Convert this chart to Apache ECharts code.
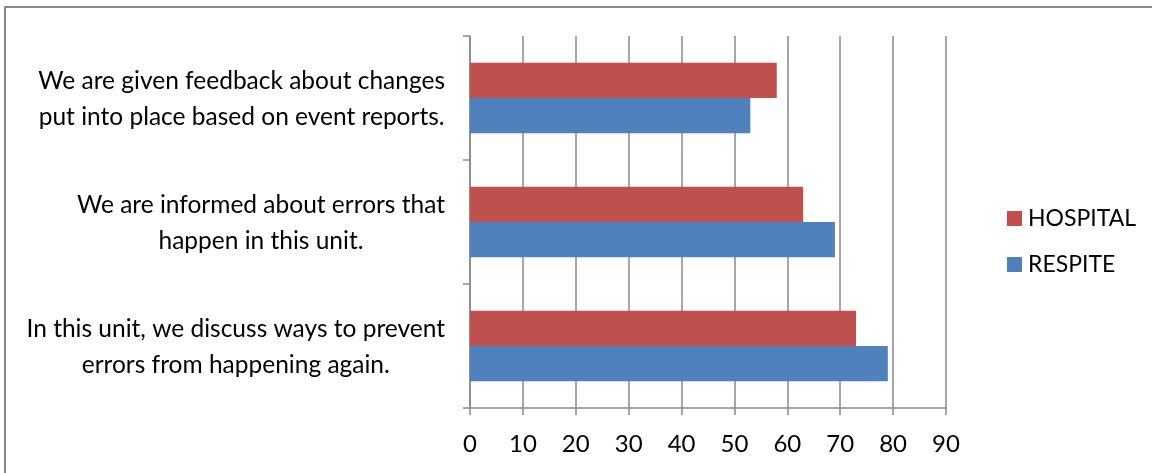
<!DOCTYPE html>
<html>
<head>
<meta charset="utf-8">
<script src="https://cdn.jsdelivr.net/npm/echarts@6/dist/echarts.min.js"></script>
<style>
  html, body { margin: 0; padding: 0; background: #fff; }
  #frame {
    position: absolute; left: 4px; top: 6px; width: 1300px; height: 600px;
    border-top: 2px solid #878787; border-left: 2px solid #878787;
  }
  #chart { position: absolute; left: 0; top: 0; width: 1152px; height: 473px; }
</style>
</head>
<body>
<div id="frame"></div>
<div id="chart"></div>
<script>
  // categories, bottom to top (as in the picture)
  var categories = [
    'In this unit, we discuss ways to prevent\nerrors from happening again.',
    'We are informed about errors that\nhappen in this unit.',
    'We are given feedback about changes\nput into place based on event reports.'
  ];
  var hospital = [73, 63, 58];
  var respite = [79, 69, 53];
  var seriesNames = ['HOSPITAL', 'RESPITE'];

  var fontName = 'Lato';
  var gridColor = '#898989';

  var option = {
    animation: false,
    textStyle: { fontFamily: fontName },
    grid: { left: 470, right: 206, top: 36, bottom: 65, containLabel: false },
    legend: {
      data: seriesNames,
      orient: 'vertical',
      left: 1002,
      top: 202,
      itemWidth: 15,
      itemHeight: 15,
      itemGap: 23,
      icon: 'rect',
      textStyle: { fontSize: 23, color: '#000', fontFamily: fontName, padding: [0, 0, 0, 1] }
    },
    xAxis: {
      type: 'value',
      min: 0,
      max: 90,
      interval: 10,
      axisLine: { show: true, lineStyle: { color: gridColor, width: 1.5 } },
      axisTick: { show: true, length: 7, lineStyle: { color: gridColor, width: 1.5 } },
      splitLine: { show: true, lineStyle: { color: gridColor, width: 1.5 } },
      axisLabel: { fontSize: 24, color: '#000', margin: 24, fontFamily: fontName }
    },
    yAxis: {
      type: 'category',
      data: categories,
      axisLine: { show: true, lineStyle: { color: gridColor, width: 1.5 } },
      axisTick: { show: true, length: 7, lineStyle: { color: gridColor, width: 1.5 } },
      axisLabel: {
        margin: 25,
        align: 'right',
        formatter: function (v) {
          return v.split('\n').map(function (l) { return '{c|' + l + '}'; }).join('\n');
        },
        rich: {
          c: { align: 'center', fontSize: 24.5, lineHeight: 36, color: '#000', fontFamily: fontName,
               padding: [2, 0, 0, 0] }
        }
      }
    },
    series: [
      {
        name: seriesNames[0],
        type: 'bar',
        data: hospital,
        barGap: 0,
        barCategoryGap: '43%',
        itemStyle: { color: '#C0504D' }
      },
      {
        name: seriesNames[1],
        type: 'bar',
        data: respite,
        barGap: 0,
        barCategoryGap: '43%',
        itemStyle: { color: '#4F81BD' }
      }
    ]
  };

  var myChart = echarts.init(document.getElementById('chart'));
  myChart.setOption(option);
</script>
</body>
</html>
